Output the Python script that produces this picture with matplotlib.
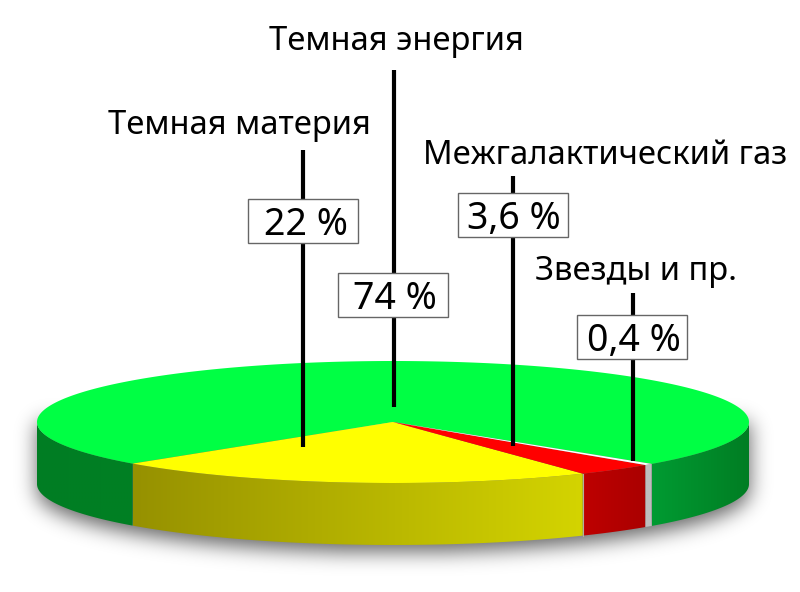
import numpy as np
import matplotlib
matplotlib.use('Agg')
import matplotlib.pyplot as plt
from matplotlib.patches import Polygon, Rectangle

plt.rcParams['font.family'] = ['Noto Sans', 'DejaVu Sans']

# shares, starting from the left edge of the yellow slice, going round the front
names = ["Темная материя", "Межгалактический газ", "Звезды и пр.", "Темная энергия"]
shares = [22, 3.6, 0.4, 74]
share_labels = ["22 %", "3,6 %", "0,4 %", "74 %"]

top_colors = ["#ffff00", "#ff0000", "#ffffff", "#00ff44"]
# side colours at the two ends of every slice (left, right)
side_colors = [((150, 145, 0), (212, 212, 0)),
               ((190, 0, 0), (170, 0, 0)),
               ((190, 190, 190), (190, 190, 190)),
               ((0, 155, 50), (0, 125, 35))]
side_left_green = ((0, 125, 35), (0, 128, 35))

cx, cy = 393, 422
a, b = 356, 61
depth = 62
start = -47.0


def rim(t):
    t = np.radians(t)
    return cx + a * np.sin(t), cy + b * np.cos(t)


fig = plt.figure(figsize=(8, 5.92), dpi=100)
ax = fig.add_axes([0, 0, 1, 1])
ax.axis('off')

# soft shadow under the disc
yy, xx = np.mgrid[0:592, 0:800]
sh_off = 7
mask = np.zeros(xx.shape)
inside = ((xx - cx) / a) ** 2 + ((yy - cy - depth - sh_off) / b) ** 2 <= 1
body = (np.abs(xx - cx) <= a) & (yy >= cy) & (yy <= cy + depth + sh_off)
mask[inside | body] = 1
r = np.arange(-30, 31)
kern = np.exp(-r ** 2 / (2 * 10.0 ** 2))
kern /= kern.sum()
mask = np.apply_along_axis(lambda v: np.convolve(v, kern, mode='same'), 0, mask)
mask = np.apply_along_axis(lambda v: np.convolve(v, kern, mode='same'), 1, mask)
shadow = np.zeros(xx.shape + (4,))
shadow[..., 3] = mask * 0.6
ax.imshow(shadow, extent=(0, 800, 592, 0), aspect='auto', zorder=0, interpolation='bilinear')


def draw_side(t0, t1, c0, c1):
    # only the front half of the disc shows its side
    t0, t1 = max(t0, -90), min(t1, 90)
    if t1 <= t0:
        return
    ts = np.linspace(t0, t1, 200)
    xs, ys = rim(ts)
    pts = np.column_stack([np.r_[xs, xs[::-1]], np.r_[ys, ys[::-1] + depth]])
    patch = Polygon(pts, closed=True, fc='none', ec='none')
    ax.add_patch(patch)
    f = np.linspace(0, 1, 256)[:, None]
    grad = np.array(c0) * (1 - f) + np.array(c1) * f
    im = ax.imshow(grad[None, :, :] / 255, extent=(xs[0], xs[-1], ys.max() + depth, ys.min()),
                   aspect='auto', zorder=1, interpolation='bilinear')
    im.set_clip_path(patch)


angles = np.array(shares) / sum(shares) * 360
edges = start + np.concatenate([[0], np.cumsum(angles)])

for i in range(len(shares)):
    draw_side(edges[i], edges[i + 1], side_colors[i][0], side_colors[i][1])
draw_side(edges[0] - 90, edges[0], side_left_green[0], side_left_green[1])

# seam between yellow and red
sx, sy = rim(edges[1])
ax.plot([sx, sx], [sy, sy + depth], color="#b0b0a0", lw=0.8, zorder=2)

for i in [3, 0, 1, 2]:
    ts = np.linspace(edges[i], edges[i + 1], 400)
    xs, ys = rim(ts)
    pts = np.column_stack([np.r_[cx, xs], np.r_[cy, ys]])
    ax.add_patch(Polygon(pts, closed=True, fc=top_colors[i], ec='none', zorder=3))

# leaders, labels and percentage boxes
leader_x = [303, 513, 633, 394]
leader_top = [150, 176, 293, 70]
leader_bottom = [447, 446, 461, 407]
box_left = [248, 458, 577, 338]
box_top = [199, 193, 315, 273]
box_w, box_h = 110, 44
name_xy = [(239, 126), (605, 155), (636, 272), (396, 41)]
pct_x = [306, 514, 634, 395]

for i in range(len(names)):
    ax.plot([leader_x[i], leader_x[i]], [leader_top[i], leader_bottom[i]],
            color='black', lw=3.0, solid_capstyle='butt', zorder=4)
    ax.add_patch(Rectangle((box_left[i], box_top[i]), box_w, box_h, fc='white', ec='#666666', lw=1, zorder=5))
    ax.text(pct_x[i], box_top[i] + box_h / 2 + 4, share_labels[i], fontsize=27, fontweight='light',
            ha='center', va='center', zorder=6)
    ax.text(name_xy[i][0], name_xy[i][1], names[i], fontsize=23.6, fontweight='light',
            ha='center', va='center', zorder=6)

ax.set_xlim(0, 800)
ax.set_ylim(592, 0)
fig.savefig("out.png", dpi=100)
